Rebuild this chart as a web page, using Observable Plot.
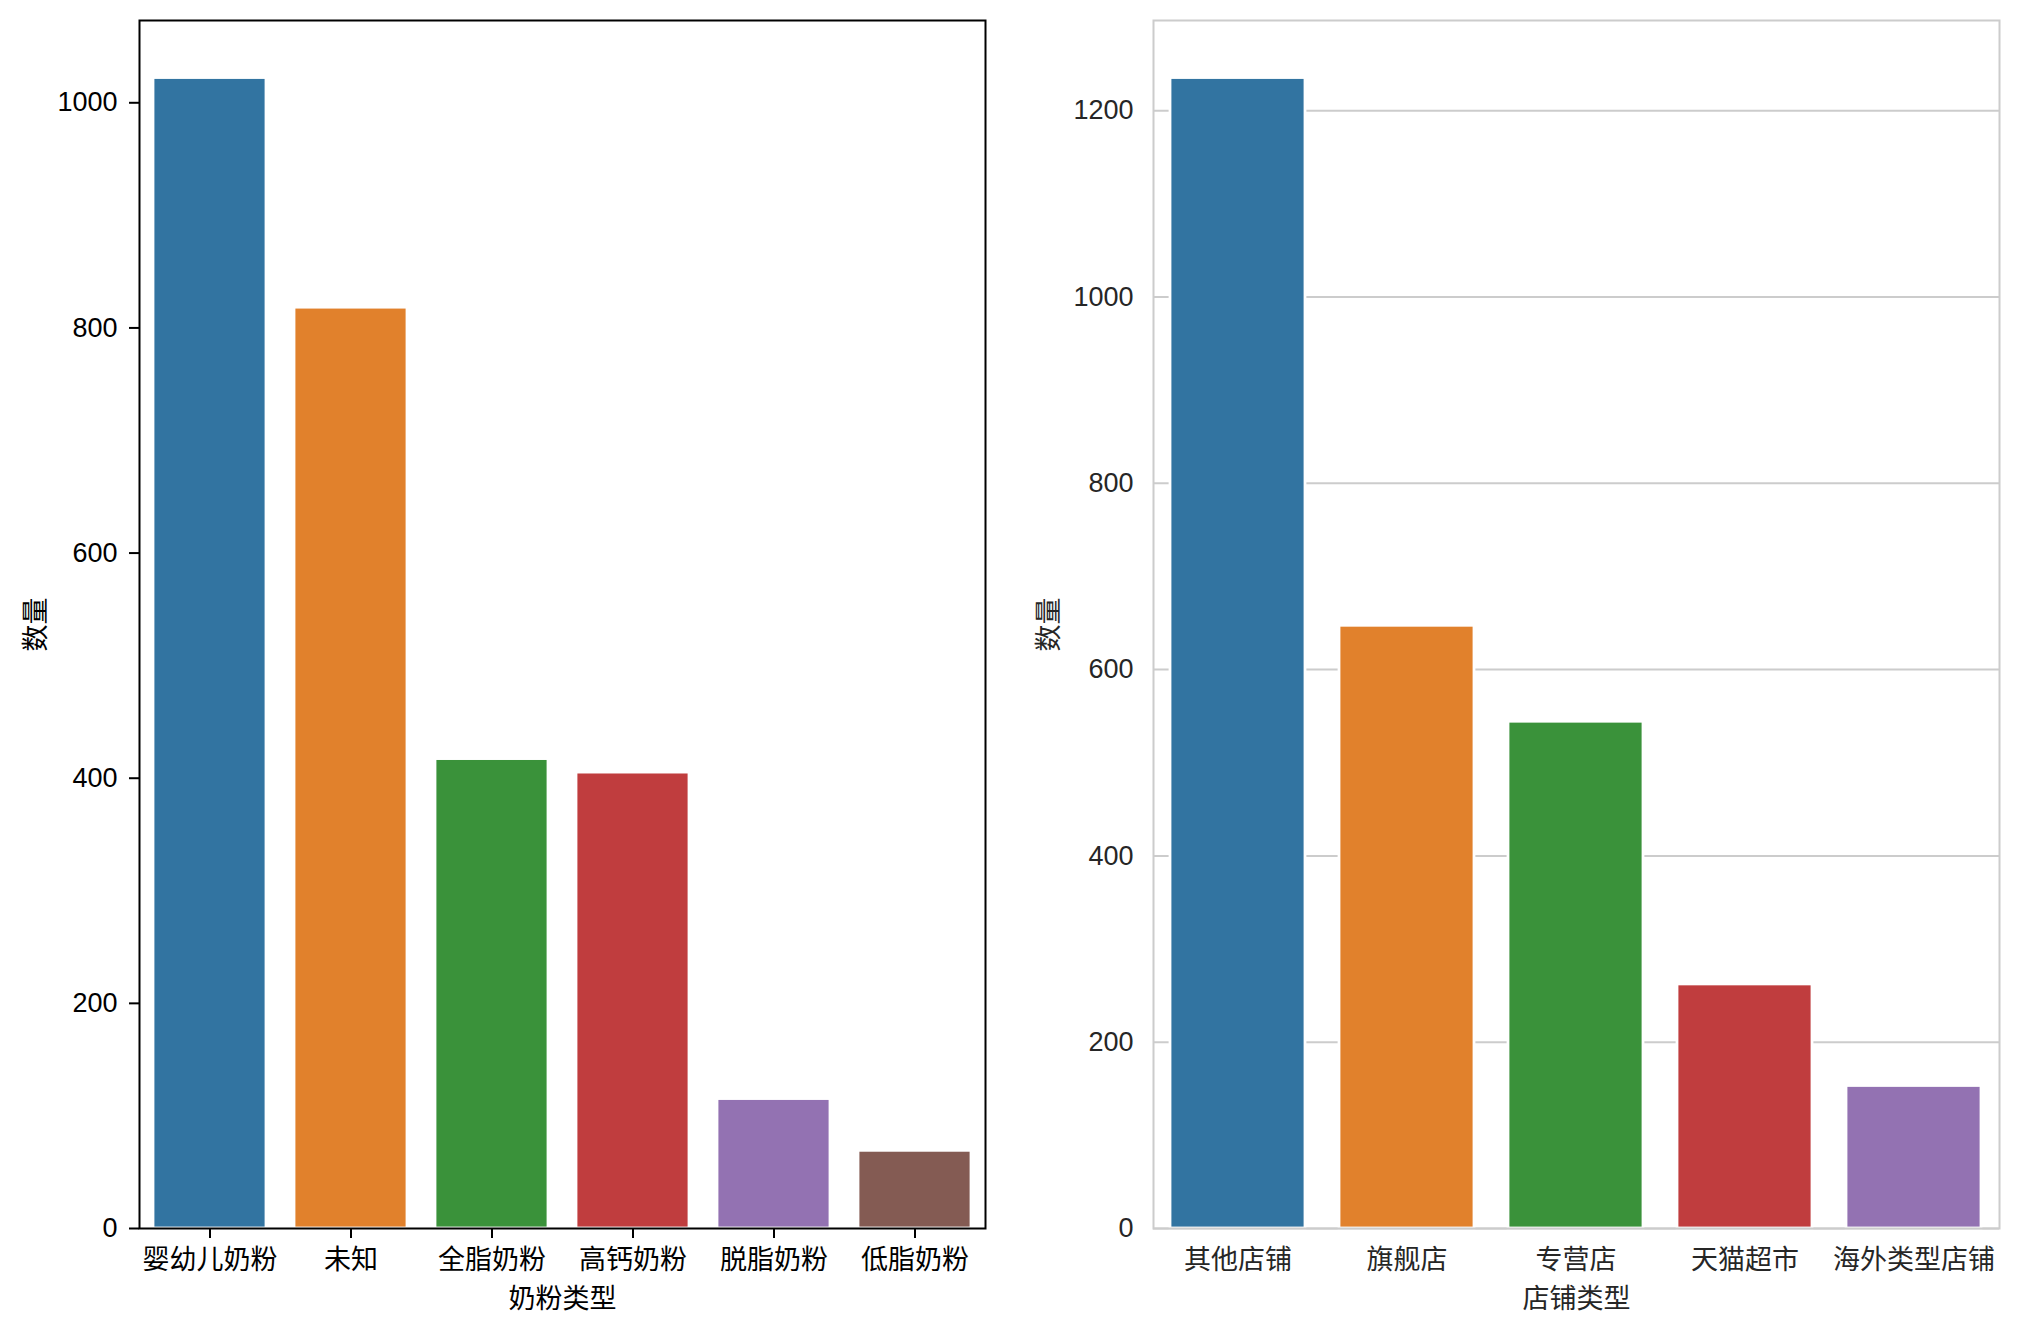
<!DOCTYPE html>
<html>
<head>
<meta charset="utf-8">
<script src="https://cdn.jsdelivr.net/npm/d3@7"></script>
<script src="https://cdn.jsdelivr.net/npm/@observablehq/plot@0.6"></script>
<style>
  body { margin: 0; background: #fff; }
  #wrap { display: flex; width: 2018px; height: 1331px; background: #fff; }
</style>
</head>
<body>
<div id="wrap"></div>
<script>
// ---- data ----
const milkTypes = ["婴幼儿奶粉", "未知", "全脂奶粉", "高钙奶粉", "脱脂奶粉", "低脂奶粉"];
const milkCounts = [1022, 818, 417, 405, 115, 69];
const milkTicks = [0, 200, 400, 600, 800, 1000];

const storeTypes = ["其他店铺", "旗舰店", "专营店", "天猫超市", "海外类型店铺"];
const storeCounts = [1235, 647, 544, 262, 153];
const storeTicks = [0, 200, 400, 600, 800, 1000, 1200];

const palette = ["#3274a1", "#e1812c", "#3a923a", "#c03d3e", "#9372b2", "#845b53"];

const milkData = milkTypes.map((t, i) => ({type: t, count: milkCounts[i]}));
const storeData = storeTypes.map((t, i) => ({type: t, count: storeCounts[i]}));

const fontFamily = "'Liberation Sans', 'Noto Sans CJK SC', sans-serif";

const left = Plot.plot({
  width: 1010,
  height: 1331,
  marginLeft: 139,
  marginRight: 25,
  marginTop: 20,
  marginBottom: 103,
  style: {fontFamily, fontSize: "27px", color: "#000", background: "#fff", overflow: "visible"},
  x: {type: "band", domain: milkTypes, paddingInner: 0.2, paddingOuter: 0.1},
  y: {domain: [0, d3.max(milkCounts) * 1.05]},
  color: {domain: milkTypes, range: palette},
  marks: [
    Plot.barY(milkData, {x: "type", y: "count", fill: "type", stroke: "white", strokeWidth: 2.8}),
    Plot.frame({stroke: "#000", strokeWidth: 2}),
    Plot.axisY({ticks: milkTicks, tickFormat: d3.format("d"), tickSize: 10, tickPadding: 12, strokeWidth: 2,
      label: "数量", labelAnchor: "center", labelArrow: "none", labelOffset: 114}),
    Plot.axisX({tickSize: 10, tickPadding: 11, strokeWidth: 2,
      label: "奶粉类型", labelAnchor: "center", labelArrow: "none", labelOffset: 79})
  ]
});

const right = Plot.plot({
  width: 1008,
  height: 1331,
  marginLeft: 143,
  marginRight: 19,
  marginTop: 20,
  marginBottom: 103,
  style: {fontFamily, fontSize: "27px", color: "#262626", background: "#fff", overflow: "visible"},
  x: {type: "band", domain: storeTypes, paddingInner: 0.2, paddingOuter: 0.1},
  y: {domain: [0, d3.max(storeCounts) * 1.05]},
  color: {domain: storeTypes, range: palette},
  marks: [
    Plot.gridY({ticks: storeTicks, stroke: "#cccccc", strokeOpacity: 1, strokeWidth: 2}),
    Plot.barY(storeData, {x: "type", y: "count", fill: "type", stroke: "white", strokeWidth: 2.8}),
    Plot.frame({stroke: "#cccccc", strokeWidth: 2}),
    Plot.axisY({ticks: storeTicks, tickFormat: d3.format("d"), tickSize: 0, tickPadding: 20,
      label: "数量", labelAnchor: "center", labelArrow: "none", labelOffset: 115}),
    Plot.axisX({tickSize: 0, tickPadding: 21,
      label: "店铺类型", labelAnchor: "center", labelArrow: "none", labelOffset: 79})
  ]
});

const wrap = document.getElementById("wrap");
wrap.appendChild(left);
wrap.appendChild(right);
</script>
</body>
</html>
